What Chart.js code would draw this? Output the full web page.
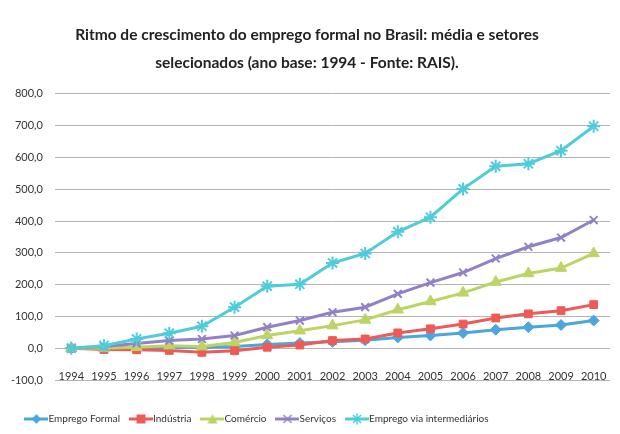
<!DOCTYPE html>
<html>
<head>
<meta charset="utf-8">
<script src="https://cdn.jsdelivr.net/npm/chart.js@4"></script>
<style>
html,body{margin:0;padding:0;background:#fff;}
#wrap{width:620px;height:434px;position:relative;}
</style>
</head>
<body>
<div id="wrap"><canvas id="c" width="620" height="434"></canvas></div>
<script>
const years = ["1994","1995","1996","1997","1998","1999","2000","2001","2002","2003","2004","2005","2006","2007","2008","2009","2010"];
const seriesNames = ["Emprego Formal","Indústria","Comércio","Serviços","Emprego via intermediários"];
const empregoFormal = [0, 2, 1, 2, 2, 5, 12, 16, 20, 25, 34, 40, 48, 58, 66, 73, 87];
const industria = [0, -4, -5, -7, -13, -8, 3, 10, 24, 29, 48, 61, 76, 95, 108, 118, 137];
const comercio = [0, 0, 3, 8, 5, 18, 40, 55, 71, 89, 121, 147, 174, 208, 235, 252, 298];
const servicos = [0, 5, 15, 24, 29, 40, 66, 87, 113, 129, 171, 206, 238, 282, 319, 348, 403];
const intermediarios = [0, 8, 29, 47, 69, 129, 195, 201, 268, 298, 366, 412, 501, 572, 580, 621, 698];
const yTicks = [-100, 0, 100, 200, 300, 400, 500, 600, 700, 800];

const colors = ["#4BA6DE", "#EE5A55", "#BCD464", "#9281C8", "#4FCCDA"];
const styles = ["rectRot", "rect", "triangle", "crossRot", "star"];
const radii = [5.5, 5.5, 6.5, 5.5, 6.5];
const allData = [empregoFormal, industria, comercio, servicos, intermediarios];

function legendIcon(i) {
  const cv = document.createElement('canvas');
  cv.width = 24; cv.height = 12;
  const g = cv.getContext('2d');
  g.strokeStyle = colors[i]; g.fillStyle = colors[i];
  g.lineWidth = 3;
  g.beginPath(); g.moveTo(0, 6); g.lineTo(24, 6); g.stroke();
  const cx = 12, cy = 6;
  g.lineWidth = 1.5;
  if (i === 0) { g.beginPath(); g.moveTo(cx, 1); g.lineTo(cx+4.5, cy); g.lineTo(cx, 11); g.lineTo(cx-4.5, cy); g.closePath(); g.fill(); }
  else if (i === 1) { g.fillRect(cx-4.5, cy-4.5, 9, 9); }
  else if (i === 2) { g.beginPath(); g.moveTo(cx, 1); g.lineTo(cx+5, 10.5); g.lineTo(cx-5, 10.5); g.closePath(); g.fill(); }
  else if (i === 3) { g.beginPath(); g.moveTo(cx-4, cy-4); g.lineTo(cx+4, cy+4); g.moveTo(cx+4, cy-4); g.lineTo(cx-4, cy+4); g.stroke(); }
  else { g.beginPath(); g.moveTo(cx-4, cy-4); g.lineTo(cx+4, cy+4); g.moveTo(cx+4, cy-4); g.lineTo(cx-4, cy+4); g.moveTo(cx, 0.5); g.lineTo(cx, 11.5); g.stroke(); }
  return cv;
}
const icons = seriesNames.map((_, i) => legendIcon(i));

const datasets = seriesNames.map((name, i) => ({
  label: name,
  data: allData[i],
  borderColor: colors[i],
  backgroundColor: colors[i],
  borderWidth: 3,
  pointStyle: styles[i],
  pointRadius: radii[i],
  pointBorderColor: colors[i],
  pointBackgroundColor: colors[i],
  pointBorderWidth: (i >= 3) ? 2 : 1,
  tension: 0,
  order: 5 - i
}));

const shiftLegend = {
  id: 'shiftLegend',
  afterLayout(chart) {
    if (chart.legend) { chart.legend.left -= 48; chart.legend.right -= 48; }
  }
};

const FONT = "Lato";

new Chart(document.getElementById('c'), {
  type: 'line',
  data: { labels: years, datasets },
  plugins: [shiftLegend],
  options: {
    responsive: false,
    animation: false,
    devicePixelRatio: 1,
    layout: { padding: { left: 4, right: 10, top: 0, bottom: 0 } },
    plugins: {
      title: {
        display: true,
        text: ["Ritmo de crescimento do emprego formal no Brasil: média e setores", "selecionados (ano base: 1994 - Fonte: RAIS)."],
        font: { family: FONT, size: 15.5, weight: 'bold', lineHeight: 1.8 },
        color: '#222',
        padding: { top: 21, bottom: 17 }
      },
      legend: {
        position: 'bottom',
        labels: {
          usePointStyle: true,
          pointStyleWidth: 14,
          padding: 14,
          color: '#333',
          font: { family: FONT, size: 10 },
          generateLabels(chart) {
            return chart.data.datasets.map((ds, i) => ({
              text: ds.label,
              fillStyle: colors[i],
              strokeStyle: colors[i],
              lineWidth: 0,
              pointStyle: icons[i],
              datasetIndex: i,
              hidden: false,
              fontColor: '#333'
            }));
          }
        }
      },
      tooltip: { enabled: false }
    },
    scales: {
      x: {
        offset: true,
        grid: { display: false, drawTicks: false },
        border: { display: false },
        ticks: { font: { family: FONT, size: 11 }, color: '#333', mirror: true, padding: -3, maxRotation: 0, autoSkip: false },
        afterFit(s) { s.height = 20; }
      },
      y: {
        min: -100, max: 800,
        afterBuildTicks(s) { s.ticks = yTicks.map(v => ({ value: v })); },
        grid: { color: '#B4B4B4', lineWidth: 1, drawTicks: false },
        border: { display: false },
        ticks: {
          font: { family: FONT, size: 11 }, color: '#333', padding: 12,
          callback: v => v.toFixed(1).replace('.', ',')
        },
        afterFit(s) { s.width = 51; }
      }
    }
  }
});
</script>
</body>
</html>
